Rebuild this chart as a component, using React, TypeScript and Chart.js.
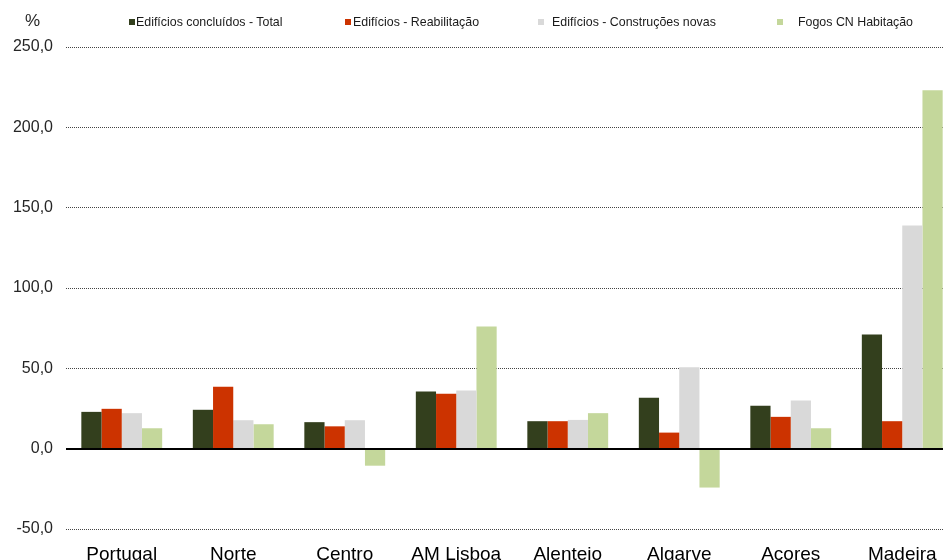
import React, { useEffect, useRef } from "react";
import { Chart, registerables } from "chart.js";

Chart.register(...registerables);

const categories = ["Portugal", "Norte", "Centro", "AM Lisboa", "Alentejo", "Algarve", "Açores", "Madeira"];
const seriesNames = [
  "Edifícios concluídos - Total",
  "Edifícios - Reabilitação",
  "Edifícios - Construções novas",
  "Fogos CN Habitação",
];
const totalValues = [22.9, 24.2, 16.5, 35.6, 17.1, 31.7, 26.7, 71.0];
const reabValues = [24.8, 38.5, 13.9, 34.2, 17.1, 10.0, 19.8, 17.1];
const novasValues = [22.1, 17.7, 17.7, 36.2, 17.9, 50.6, 30.0, 138.9];
const fogosValues = [12.7, 15.2, -10.6, 76.0, 22.1, -24.2, 12.7, 223.1];
const yTicks = [-50, 0, 50, 100, 150, 200, 250];

const colors = ["#333f1d", "#cc3300", "#d9d9d9", "#c4d79b"];
const legendX = [129, 345, 538, 777];
const legendTextX = [136, 353, 552, 798];

const fmt = (v: number) => v.toFixed(1).replace(".", ",");

export default function App() {
  const ref = useRef<HTMLCanvasElement | null>(null);
  useEffect(() => {
    if (!ref.current) return;
    const zeroLine = {
      id: "zeroLine",
      afterDatasetsDraw(chart: any) {
        const { ctx, chartArea, scales } = chart;
        const y = Math.round(scales.y.getPixelForValue(0));
        ctx.save();
        ctx.strokeStyle = "#000";
        ctx.lineWidth = 2;
        ctx.beginPath();
        ctx.moveTo(chartArea.left, y);
        ctx.lineTo(chartArea.right, y);
        ctx.stroke();
        ctx.restore();
      },
    };
    const values = [totalValues, reabValues, novasValues, fogosValues];
    const chart = new Chart(ref.current, {
      type: "bar",
      data: {
        labels: categories,
        datasets: seriesNames.map((n, i) => ({
          label: n,
          data: values[i],
          backgroundColor: colors[i],
          borderWidth: 0,
          categoryPercentage: 0.725,
          barPercentage: 1,
        })),
      },
      options: {
        responsive: false,
        animation: false,
        layout: { padding: { top: 47, right: 2, left: 0, bottom: 0 } },
        plugins: { legend: { display: false }, tooltip: { enabled: false } },
        scales: {
          x: {
            grid: { display: false, drawTicks: false },
            border: { display: false },
            ticks: { color: "#000", font: { family: "Liberation Sans, Arial", size: 19 }, padding: 14, maxRotation: 0 },
            afterFit: (s: any) => { s.height = 71; },
          },
          y: {
            min: -50,
            max: 250,
            afterBuildTicks: (s: any) => { s.ticks = yTicks.map((v) => ({ value: v })); },
            grid: { color: "#444", lineWidth: 1, drawTicks: false },
            border: { display: false, dash: [1, 1] },
            ticks: {
              color: "#262626",
              font: { family: "Liberation Sans, Arial", size: 16 },
              padding: 13,
              callback: (v: any) => fmt(Number(v)),
            },
            afterFit: (s: any) => { s.width = 66; },
          },
        },
      },
      plugins: [zeroLine],
    });
    return () => chart.destroy();
  }, []);

  return (
    <div style={{ position: "fixed", left: 0, top: 0, width: 943, height: 560, overflow: "hidden", background: "#fff", fontFamily: "Liberation Sans, Arial, sans-serif" }}>
      <canvas ref={ref} width={960} height={600} style={{ position: "absolute", left: 0, top: 0 }} />
      <div style={{ position: "absolute", left: 25, top: 12, fontSize: 17, lineHeight: "18px", color: "#262626" }}>%</div>
      {seriesNames.map((n, i) => (
        <React.Fragment key={n}>
          <div style={{ position: "absolute", left: legendX[i], top: 19, width: 6, height: 6, background: colors[i] }} />
          <div style={{ position: "absolute", left: legendTextX[i], top: 15, fontSize: 12.4, lineHeight: "14px", color: "#1a1a1a", whiteSpace: "nowrap" }}>{n}</div>
        </React.Fragment>
      ))}
    </div>
  );
}
